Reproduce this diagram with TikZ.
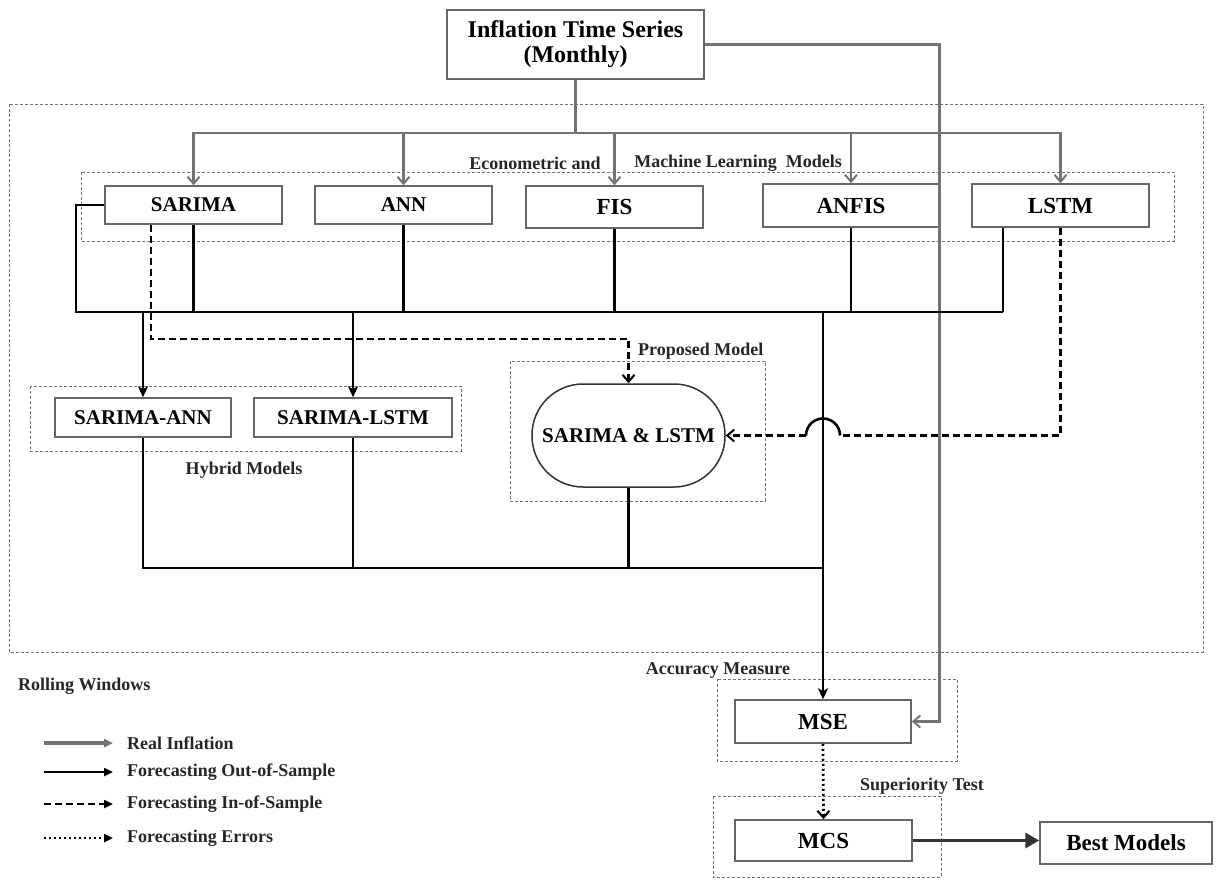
\documentclass[tikz,border=0pt]{standalone}
\usepackage{fontspec}
\setmainfont{Liberation Serif}
\usetikzlibrary{arrows.meta,calc}
\begin{document}
\begin{tikzpicture}[x=1pt,y=-1pt,
  box/.style={draw=black!60,line width=1.5pt,inner sep=0pt,minimum height=38pt,text depth=0pt,font=\bfseries\fontsize{21}{24}\selectfont},
  bigbox/.style={box,font=\bfseries\fontsize{23}{26}\selectfont},
  grp/.style={draw=black!55,line width=0.9pt,dash pattern=on 3pt off 2pt},
  lbl/.style={inner sep=0pt,font=\bfseries\fontsize{18}{20}\selectfont,text=black!85},
  real/.style={draw=black!55,line width=2.7pt},
  outs/.style={draw=black,line width=2.8pt},
  ins/.style={draw=black,line width=2.7pt,dash pattern=on 7pt off 4pt},
  errs/.style={draw=black,line width=2.7pt,dash pattern=on 2pt off 3pt},
  barb/.style={-{Straight Barb[length=7pt,width=12pt,line width=2pt]}},
  sharp/.style={-{Stealth[length=11pt,width=10pt,inset=3pt]}},
  kite/.style={-{Triangle[length=9pt,width=8pt]}}
]
\useasboundingbox (0,0) rectangle (1217,882);

% group frames
\draw[grp] (9,104) rectangle (1203,652);
\draw[grp] (81,172) rectangle (1174,241);
\draw[grp] (30,386) rectangle (461,451);
\draw[grp] (510,361) rectangle (765,501);
\draw[grp] (717,679) rectangle (957,761);
\draw[grp] (713,796) rectangle (941,877);

% nodes
\node[box,minimum width=257pt,minimum height=69pt,align=center,text depth=,font=\bfseries\fontsize{24}{25}\selectfont] (infl) at (575.5,44.5) {Inflation Time Series\\(Monthly)};
\node[box,fill=white,minimum width=177pt] (sar) at (193.5,205) {SARIMA};
\node[box,fill=white,minimum width=177pt] (ann) at (403.5,205) {ANN};
\node[bigbox,fill=white,minimum width=177pt,minimum height=42pt] (fis) at (614.5,207) {FIS};
\node[bigbox,fill=white,minimum width=176pt,minimum height=43pt] (anfis) at (851,205.5) {ANFIS};
\node[bigbox,fill=white,minimum width=177pt,minimum height=43pt] (lstm) at (1060.5,205.5) {LSTM};
\node[box,fill=white,minimum width=176pt,minimum height=39pt] (sa) at (143,417.5) {SARIMA-ANN};
\node[box,fill=white,minimum width=198pt,minimum height=39pt] (sl2) at (353,417.5) {SARIMA-LSTM};
\node[box,draw=black!80,fill=white,minimum width=193pt,minimum height=103pt,rounded corners=51pt] (sl) at (628.5,435.5) {SARIMA \& LSTM};
\node[bigbox,fill=white,minimum width=176pt,minimum height=43pt] (mse) at (823,721.5) {MSE};
\node[bigbox,fill=white,minimum width=177pt,minimum height=41pt] (mcs) at (823.5,840.5) {MCS};
\node[bigbox,fill=white,minimum width=172pt,minimum height=42pt] (best) at (1126,843) {Best Models};

% labels
\node[lbl] (l1) at (535,163) {Econometric and};
\node[lbl] (l2) at (738,163) {Machine Learning\ \ Models};
\node[lbl] (l3) at (244,470) {Hybrid Models};
\node[lbl,anchor=west] (l4) at (638,351) {Proposed Model};
\node[lbl] (l5) at (718,670) {Accuracy Measure};
\node[lbl] (l6) at (922,786) {Superiority Test};
\node[lbl,anchor=west] (l7) at (18,686) {Rolling Windows};

% coordinates
\coordinate (dist) at (575.5,133);
\coordinate (sarL) at (76,205);
\coordinate (busL) at (76,312);
\coordinate (busR) at (1003,312);
\coordinate (jA) at (143,312);
\coordinate (jB) at (353,312);
\coordinate (jM) at (823,312);
\coordinate (botR) at (823,568);
\coordinate (dk) at (628.5,339);
\coordinate (hopR) at (840,435.5);
\coordinate (hopL) at (806,435.5);

% real inflation (gray)
\draw[real] (infl.south) -- (dist);
\foreach \n in {sar,ann,fis,anfis,lstm}{\draw[real,barb] (dist) -| (\n.north);}
\draw[real,barb] (infl.east) -| ($(mse.east)+(28,0)$) -- (mse.east);

% out-of-sample bus
\draw[outs] (sar.west) -- (sarL) -- (busL) -- (busR);
\foreach \n in {sar,ann,fis,anfis}{\draw[outs] (\n.south) -- (\n.south |- busL);}
\draw[outs] (busR) -- (busR |- lstm.south);
\draw[outs,sharp] (jA) -- (sa.north);
\draw[outs,sharp] (jB) -- (sl2.north);
\draw[outs,sharp] (jM) -- (mse.north);
\draw[outs] (sa.south) |- (botR);
\draw[outs] (sl2.south) -- (sl2.south |- botR);
\draw[outs] (sl.south) |- (botR);

% in-sample (dashed)
\draw[ins,barb] ([xshift=-42.5pt]sar.south) |- (dk) -- (sl.north);
\draw[ins] (lstm.south) |- (hopR);
\draw[draw=black,line width=2.6pt] (hopR) .. controls (840,426.1) and (832.4,418.5) .. (823,418.5) .. controls (813.6,418.5) and (806,426.1) .. (hopL);
\draw[ins,barb] (hopL) -- (sl.east);

% errors
\draw[errs,barb] (mse.south) -- (mcs.north);

% to best models
\draw[draw=black!80,line width=3.4pt,-{Triangle[length=14pt,width=15pt]}] (mcs.east) -- (mcs.east -| best.west);

% legend
\coordinate (a1) at (44,743); \coordinate (b1) at (113,743);
\coordinate (a2) at (44,772); \coordinate (b2) at (113,772);
\coordinate (a3) at (44,804); \coordinate (b3) at (113,804);
\coordinate (a4) at (44,838); \coordinate (b4) at (113,838);
\draw[real,line width=3.2pt,kite] (a1) -- (b1);
\draw[outs,kite] (a2) -- (b2);
\draw[ins,kite] (a3) -- (b3);
\draw[errs,kite] (a4) -- (b4);
\node[lbl,anchor=west] (t1) at (127,743) {Real Inflation};
\node[lbl,anchor=west] (t2) at (127,772) {Forecasting Out-of-Sample};
\node[lbl,anchor=west] (t3) at (127,804) {Forecasting In-of-Sample};
\node[lbl,anchor=west] (t4) at (127,838) {Forecasting Errors};
\end{tikzpicture}
\end{document}
